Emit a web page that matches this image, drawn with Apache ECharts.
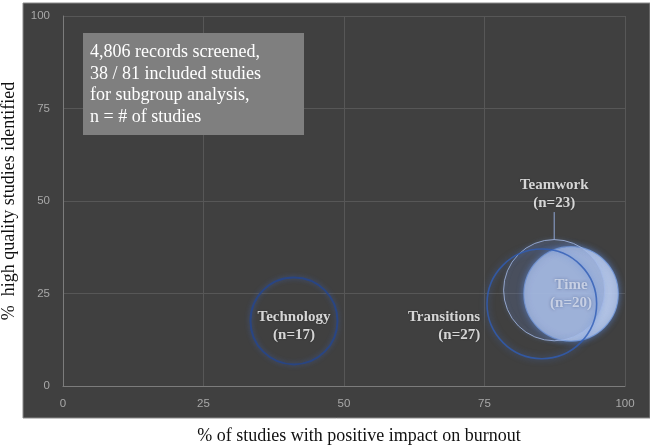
<!DOCTYPE html>
<html>
<head>
<meta charset="utf-8">
<script src="https://cdn.jsdelivr.net/npm/echarts@6/dist/echarts.min.js"></script>
<style>html,body{margin:0;padding:0;background:#fff}#c{width:650px;height:448px}</style>
</head>
<body>
<div id="c"></div>
<script>
// ---- data ----
const categories = ['Technology', 'Transitions', 'Teamwork', 'Time'];
const pctPositive = [41.1, 85.2, 87.4, 90.4];      // % of studies with positive impact on burnout
const pctHighQuality = [17.6, 22.2, 25.9, 24.9];   // % high quality studies identified
const nStudies = [17, 27, 23, 20];                 // bubble size = number of studies
const axisTicks = [0, 25, 50, 75, 100];
const noteLines = ['4,806 records screened,', '38 / 81 included studies', 'for subgroup analysis,', 'n = # of studies'];

const SERIF = '"Liberation Serif", "Times New Roman", serif';
const sizeOf = n => 21.1 * Math.sqrt(n);
const idx = name => categories.indexOf(name);

function point(name) {
  const i = idx(name);
  return [[pctPositive[i], pctHighQuality[i], nStudies[i], categories[i]]];
}
const labelFmt = p => p.data[3] + '\n(n=' + p.data[2] + ')';
const labelBase = {
  show: true, formatter: labelFmt, color: '#ffffff', fontFamily: SERIF,
  fontWeight: 'bold', fontSize: 15, lineHeight: 18,
  textShadowColor: 'rgba(0,0,0,0.45)', textShadowBlur: 2
};

const chart = echarts.init(document.getElementById('c'), null, {renderer: 'canvas'});
chart.setOption({
  backgroundColor: '#ffffff',
  animation: false,
  graphic: [
    {type: 'rect', z: -100, silent: true, shape: {x: 23, y: 3, width: 627, height: 415},
     style: {fill: '#404040', stroke: '#8a8a8a', lineWidth: 1}},
    {type: 'rect', z: 100, silent: true, shape: {x: 83, y: 33, width: 221, height: 102},
     style: {fill: '#7f7f7f'}},
    {type: 'text', z: 101, silent: true, left: 90, top: 42,
     style: {text: noteLines.join('\n'), fill: '#ffffff', font: '18px ' + SERIF, lineHeight: 21.5}}
  ],
  grid: {left: 63, right: 25, top: 16, bottom: 62, containLabel: false, outerBoundsMode: 'none'},
  xAxis: {
    type: 'value', min: axisTicks[0], max: axisTicks[axisTicks.length - 1], interval: 25,
    name: '% of studies with positive impact on burnout', nameLocation: 'middle', nameGap: 41,
    nameTextStyle: {fontFamily: SERIF, fontSize: 18, color: '#111', padding: [0, 0, 0, 30]},
    axisLine: {show: true, lineStyle: {color: '#7c7c7c', width: 1}},
    axisTick: {show: false},
    axisLabel: {color: '#a8a8a8', fontFamily: '"Liberation Sans", sans-serif', fontSize: 11.5, margin: 12},
    splitLine: {show: true, lineStyle: {color: '#575757', width: 1}}
  },
  yAxis: {
    type: 'value', min: axisTicks[0], max: axisTicks[axisTicks.length - 1], interval: 25,
    name: '%  high quality studies identified', nameLocation: 'middle', nameGap: 45,
    nameTextStyle: {fontFamily: SERIF, fontSize: 18, color: '#111', padding: [0, 0, 0, 0]},
    axisLine: {show: true, lineStyle: {color: '#7c7c7c', width: 1}},
    axisTick: {show: false},
    axisLabel: {color: '#a8a8a8', fontFamily: '"Liberation Sans", sans-serif', fontSize: 11.5, margin: 13},
    splitLine: {show: true, lineStyle: {color: '#575757', width: 1}}
  },
  series: [
    {
      name: 'Time', type: 'scatter', z: 2, data: point('Time'),
      symbolSize: d => sizeOf(d[2]),
      itemStyle: {color: 'rgba(205,218,245,0.97)', borderColor: '#7aa0e2', borderWidth: 1.2,
                  shadowBlur: 6, shadowColor: 'rgba(90,140,230,0.8)'},
      label: Object.assign({}, labelBase, {position: 'inside', textShadowColor: 'rgba(40,60,110,0.7)', textShadowBlur: 3})
    },
    {
      name: 'Teamwork', type: 'scatter', z: 3, data: point('Teamwork'),
      symbolSize: d => sizeOf(d[2]),
      itemStyle: {color: 'rgba(95,115,165,0.22)', borderColor: '#a6bce8', borderWidth: 1,
                  shadowBlur: 4, shadowColor: 'rgba(120,160,230,0.5)'},
      label: Object.assign({}, labelBase, {position: 'top', distance: 27}),
      labelLine: {show: true, lineStyle: {color: '#8fa6d4', width: 1}},
      labelLayout: {dy: 0}
    },
    {
      name: 'Transitions', type: 'scatter', z: 4, data: point('Transitions'),
      symbolSize: d => sizeOf(d[2]),
      itemStyle: {color: 'rgba(0,0,0,0)', borderColor: '#2f5cb5', borderWidth: 1.6,
                  shadowBlur: 6, shadowColor: 'rgba(70,120,220,0.7)'},
      label: Object.assign({}, labelBase, {position: 'left', distance: 6, offset: [0, 22]})
    },
    {
      name: 'Technology', type: 'scatter', z: 4, data: point('Technology'),
      symbolSize: d => sizeOf(d[2]),
      itemStyle: {color: 'rgba(0,0,0,0)', borderColor: '#23458f', borderWidth: 2,
                  shadowBlur: 5, shadowColor: 'rgba(70,110,210,0.6)'},
      label: Object.assign({}, labelBase, {position: 'inside', offset: [0, 5]})
    }
  ]
});
</script>
</body>
</html>
